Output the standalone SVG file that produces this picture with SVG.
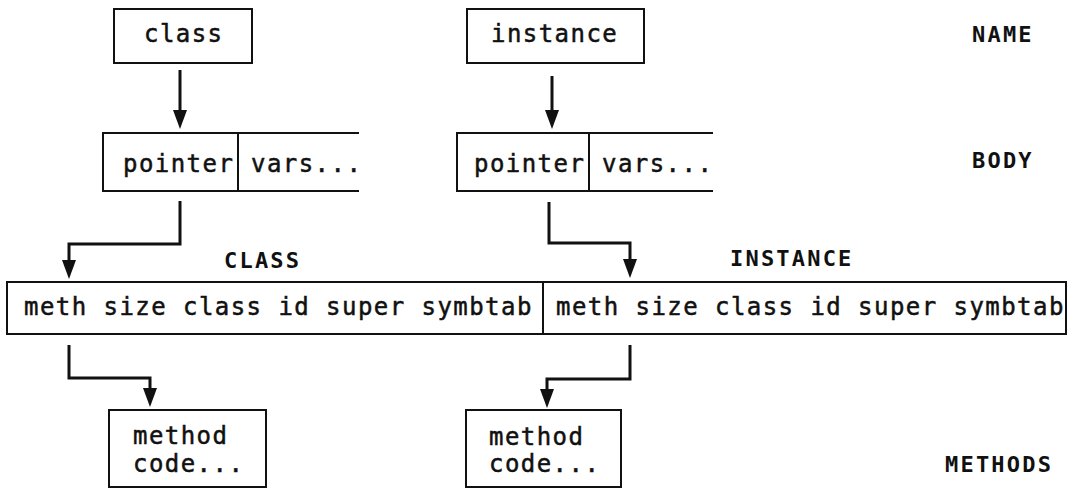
<svg xmlns="http://www.w3.org/2000/svg" width="1073" height="490" viewBox="0 0 1073 490">
  <defs>
    <style>
      .box { fill: none; stroke: #111; stroke-width: 2; }
      .txt { font-family: "DejaVu Sans Mono", "Liberation Mono", monospace; font-size: 24px; letter-spacing: 1.45px; fill: #111; stroke: #111; stroke-width: 0.5px; }
      .lbl { font-family: "DejaVu Sans Mono", "Liberation Mono", monospace; font-size: 22px; font-weight: bold; letter-spacing: 2.2px; fill: #111; }
      .wire { fill: none; stroke: #111; stroke-width: 3; }
      .tip { fill: #111; }
    </style>
  </defs>

  <!-- wires with their downward arrowheads -->
  <g id="connectors">
    <line class="wire" x1="180" y1="70" x2="180" y2="115"/>
    <path class="tip" d="M173,110 L187,110 L180,129 Z"/>

    <line class="wire" x1="552" y1="76" x2="552" y2="115"/>
    <path class="tip" d="M545,110 L559,110 L552,129 Z"/>

    <polyline class="wire" points="180,201 180,244 69,244 69,265"/>
    <path class="tip" d="M62,260 L76,260 L69,279 Z"/>

    <polyline class="wire" points="549,202 549,243 630,243 630,262"/>
    <path class="tip" d="M623,259 L637,259 L630,278 Z"/>

    <polyline class="wire" points="69,345 69,378 150,378 150,392"/>
    <path class="tip" d="M143,388 L157,388 L150,407 Z"/>

    <polyline class="wire" points="630,345 630,379 547,379 547,392"/>
    <path class="tip" d="M540,389 L554,389 L547,408 Z"/>
  </g>

  <g id="class-name">
    <rect class="box" x="114" y="9" width="138" height="54"/>
    <text class="txt" x="144" y="42">class</text>
  </g>

  <g id="instance-name">
    <rect class="box" x="467" y="9" width="177" height="54"/>
    <text class="txt" x="491" y="42">instance</text>
  </g>

  <g id="class-body">
    <path class="box" d="M359,133 L103,133 L103,191 L359,191 M238,133 L238,191"/>
    <text class="txt" x="123" y="172">pointer</text>
    <text class="txt" x="251" y="172">vars...</text>
  </g>

  <g id="instance-body">
    <path class="box" d="M713,133 L457,133 L457,191 L713,191 M589,133 L589,191"/>
    <text class="txt" x="474" y="172">pointer</text>
    <text class="txt" x="602" y="172">vars...</text>
  </g>

  <g id="class-record">
    <path class="box" d="M543,282 L7,282 L7,334 L543,334 Z"/>
    <text class="txt" x="24" y="315">meth size class id super symbtab</text>
  </g>

  <g id="instance-record">
    <path class="box" d="M543,282 L1066,282 L1066,334 L543,334"/>
    <text class="txt" x="556" y="315">meth size class id super symbtab</text>
  </g>

  <g id="class-methods">
    <rect class="box" x="109" y="410" width="157" height="77"/>
    <text class="txt" x="133" y="444">method</text>
    <text class="txt" x="133" y="472">code...</text>
  </g>

  <g id="instance-methods">
    <rect class="box" x="466" y="410" width="155" height="77"/>
    <text class="txt" x="489" y="445">method</text>
    <text class="txt" x="489" y="472">code...</text>
  </g>

  <g id="labels">
    <text class="lbl" x="224" y="268">CLASS</text>
    <text class="lbl" x="730" y="266">INSTANCE</text>
    <text class="lbl" x="972" y="42">NAME</text>
    <text class="lbl" x="972" y="168">BODY</text>
    <text class="lbl" x="945" y="472">METHODS</text>
  </g>
</svg>
